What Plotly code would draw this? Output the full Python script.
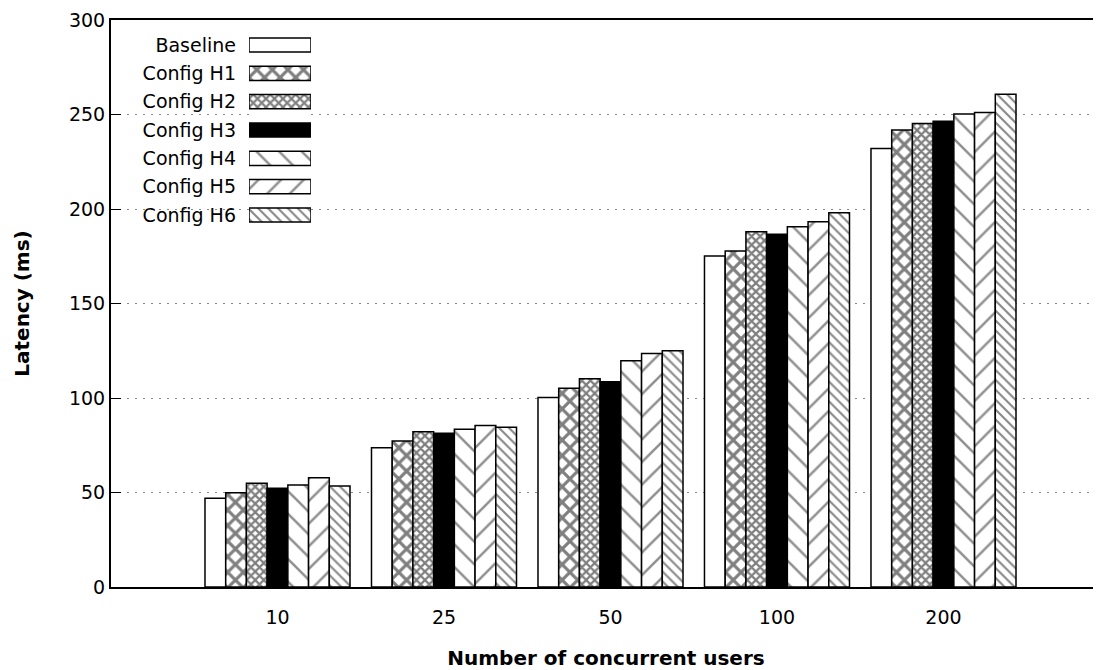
import plotly.graph_objects as go

categories = ["10", "25", "50", "100", "200"]
series_names = ["Baseline", "Config H1", "Config H2", "Config H3", "Config H4", "Config H5", "Config H6"]
baseline = [47.0, 73.7, 100.2, 175.1, 232.0]
h1 = [49.9, 77.2, 105.1, 177.8, 241.8]
h2 = [54.9, 82.2, 110.2, 188.0, 245.3]
h3 = [52.2, 81.3, 108.6, 186.6, 246.4]
h4 = [54.0, 83.4, 119.7, 190.6, 250.3]
h5 = [57.8, 85.5, 123.6, 193.3, 251.1]
h6 = [53.4, 84.5, 125.0, 198.0, 260.7]
values = [baseline, h1, h2, h3, h4, h5, h6]

y_ticks = [0, 50, 100, 150, 200, 250, 300]

styles = [
    dict(color="white", pattern=dict(shape="")),
    dict(color="white", pattern=dict(shape="x", fgcolor="black", bgcolor="white", size=11, solidity=0.5)),
    dict(color="white", pattern=dict(shape="x", fgcolor="black", bgcolor="white", size=6, solidity=0.6)),
    dict(color="black", pattern=dict(shape="")),
    dict(color="white", pattern=dict(shape="\\", fgcolor="#222222", bgcolor="white", size=16, solidity=0.16)),
    dict(color="white", pattern=dict(shape="/", fgcolor="#222222", bgcolor="white", size=16, solidity=0.16)),
    dict(color="white", pattern=dict(shape="\\", fgcolor="#111111", bgcolor="white", size=7, solidity=0.3)),
]

FONT = "DejaVu Sans"
fig = go.Figure()
xpos = list(range(len(categories)))
for name, vals, st in zip(series_names, values, styles):
    fig.add_trace(go.Bar(
        x=xpos, y=vals, name=name, showlegend=False,
        marker=dict(color=st["color"], pattern=st["pattern"],
                    line=dict(color="black", width=1.5)),
    ))

# legend samples drawn on a small overlay axis (gnuplot-style key)
for name, st in zip(series_names, styles):
    fig.add_trace(go.Bar(
        x=[1], y=[name], orientation="h", width=0.5, showlegend=False,
        xaxis="x2", yaxis="y2", hoverinfo="skip",
        marker=dict(color=st["color"], pattern=st["pattern"],
                    line=dict(color="black", width=1.5)),
    ))

fig.update_layout(
    width=1093, height=662,
    margin=dict(l=103, r=0, t=12, b=83),
    paper_bgcolor="white", plot_bgcolor="white",
    barmode="group", bargap=0.129, bargroupgap=0,
    font=dict(family=FONT, size=19, color="black"),
    xaxis=dict(
        range=[-1, 4.946], tickvals=xpos, ticktext=categories,
        showline=True, linecolor="black", linewidth=2, mirror=True,
        ticks="", showgrid=False, zeroline=False,
        ticklabelstandoff=12,
        title=dict(text="<b>Number of concurrent users</b>", font=dict(size=20), standoff=24),
    ),
    yaxis=dict(
        range=[0, 300], tickvals=y_ticks,
        showline=True, linecolor="black", linewidth=2, mirror=False,
        ticks="inside", ticklen=10, tickwidth=1, tickcolor="black",
        showgrid=True, gridcolor="#888888", griddash="2px,6px", gridwidth=1,
        zeroline=False,
        title=dict(text="<b>Latency (ms)</b>", font=dict(size=20), standoff=34),
    ),
    xaxis2=dict(domain=[0.1394, 0.2020], range=[0, 1], anchor="y2",
                visible=False, fixedrange=True),
    yaxis2=dict(domain=[0.6311, 0.9809], anchor="x2", autorange="reversed",
                showline=False, showgrid=False, zeroline=False, ticks="",
                ticklabelstandoff=12, fixedrange=True,
                tickfont=dict(size=19)),
)

fig.write_html("out.html")
